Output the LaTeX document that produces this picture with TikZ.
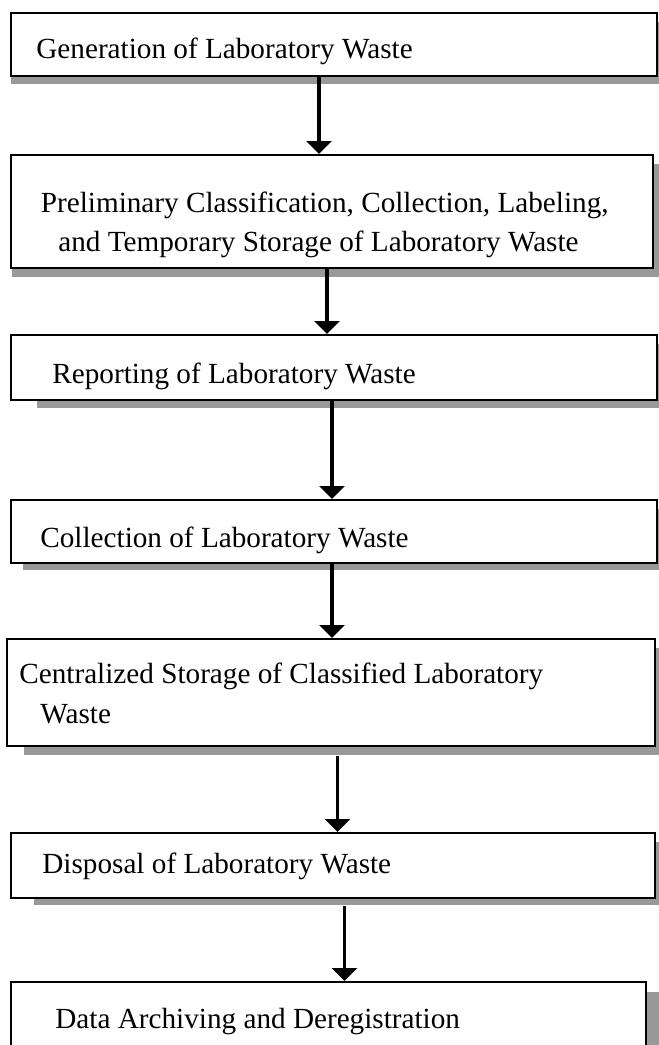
\documentclass[tikz,border=0pt]{standalone}
\usepackage{fontspec}
\setmainfont{Liberation Serif}
\usetikzlibrary{positioning,fit,arrows.meta}
\definecolor{shadowgray}{HTML}{999999}
\tikzset{wbox/.style={draw=black, line width=1pt, fill=white, inner sep=0pt}}
\tikzset{wtext/.style={inner sep=0pt, anchor=base west, font=\fontsize{14.6pt}{19.5pt}\selectfont}}
\tikzset{wshadow/.style={fill=shadowgray}}
\tikzset{arr/.style={draw, line width=1.8pt, -{Triangle[width=12.5pt,length=6.5pt]}}}

\begin{document}
\begin{tikzpicture}[x=0.5pt, y=-0.5pt]
        \useasboundingbox (0,0) rectangle (659,1045);
        \clip (0,0) rectangle (659,1045);
        % shadows
        \fill[wshadow] (11,22) rectangle (670,84);
        \fill[wshadow] (12,164) rectangle (670,277);
        \fill[wshadow] (37,344) rectangle (670,408);
        \fill[wshadow] (23,509) rectangle (670,570);
        \fill[wshadow] (24,648) rectangle (670,755);
        \fill[wshadow] (34,842) rectangle (670,905);
        \fill[wshadow] (30,992) rectangle (670,1070);
        % boxes
        \node[wbox, fit={(11,12.7) (657,76)}] (gen) {};
        \node[wbox, fit={(11,155) (653,268)}] (prelim) {};
        \node[wbox, fit={(11,335) (657,400)}] (report) {};
        \node[wbox, fit={(10.5,500) (657,563)}] (coll) {};
        \node[wbox, fit={(7,639) (655,746)}] (cent) {};
        \node[wbox, fit={(10.5,833) (655,898)}] (disp) {};
        \node[wbox, fit={(10.5,982) (646,1070)}] (arch) {};
        % texts
        \node[wtext] (gen-t) at (36,58) {Generation of Laboratory Waste};
        \node[wtext] (prelim-t1) at (40.5,212) {Preliminary Classification, Collection, Labeling,};
        \node[wtext] (prelim-t2) at (58,251) {and Temporary Storage of Laboratory Waste};
        \node[wtext] (report-t) at (52,383) {Reporting of Laboratory Waste};
        \node[wtext] (coll-t) at (40,547) {Collection of Laboratory Waste};
        \node[wtext] (cent-t1) at (19,683) {Centralized Storage of Classified Laboratory};
        \node[wtext] (cent-t2) at (40,723) {Waste};
        \node[wtext] (disp-t) at (42,873) {Disposal of Laboratory Waste};
        \node[wtext] (arch-t) at (55,1028) {Data Archiving and Deregistration};
        % arrows
        \coordinate (a1) at (319,0);
        \coordinate (a2) at (327,0);
        \coordinate (a3) at (332,0);
        \coordinate (a4) at (332,0);
        \coordinate (a5) at (337.5,0);
        \coordinate (a6) at (344.5,0);
        \draw[arr] (gen.south -| a1) -- (prelim.north -| a1);
        \draw[arr] (prelim.south -| a2) -- (report.north -| a2);
        \draw[arr] (report.south -| a3) -- (coll.north -| a3);
        \draw[arr] (coll.south -| a4) -- (cent.north -| a4);
        \draw[arr, shorten <=4.5pt] (cent.south -| a5) -- (disp.north -| a5);
        \draw[arr, shorten <=3.5pt] (disp.south -| a6) -- (arch.north -| a6);
\end{tikzpicture}
\end{document}
